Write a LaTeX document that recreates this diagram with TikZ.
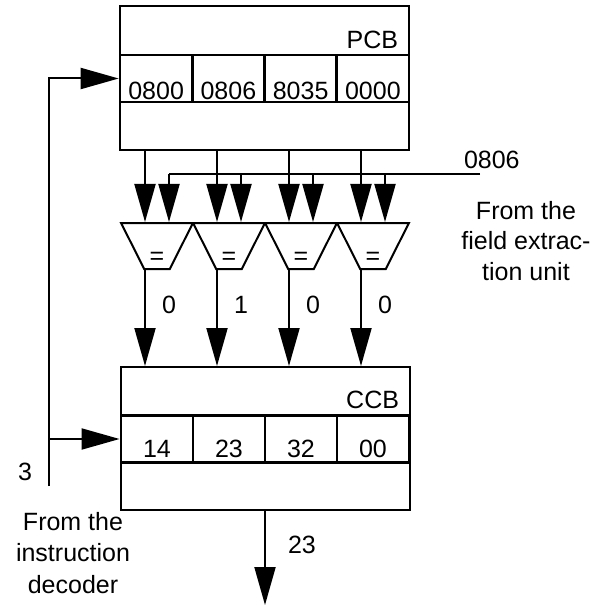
\documentclass[tikz,border=0pt]{standalone}
\usepackage{fontspec}
\setmainfont{Liberation Sans}
\usetikzlibrary{arrows.meta,shapes.geometric,calc}
\begin{document}
\begin{tikzpicture}[x=1pt,y=-1pt,line width=2pt,
  arr/.style={-{Triangle[length=38pt,width=21pt]}},
  txt/.style={font=\fontsize{25}{30.5}\selectfont,inner sep=0pt},
  regbox/.style={draw,line width=2pt,minimum width=289pt,inner sep=0pt},
  pcell/.style={draw,line width=2.6pt,minimum width=72.25pt,minimum height=47pt,inner sep=0pt,
    font=\fontsize{25}{30}\selectfont,text height=43pt,text depth=0pt},
  ccell/.style={pcell,text height=36pt},
  cmp/.style={draw,trapezium,trapezium left angle=70.3,trapezium right angle=70.3,
    shape border rotate=180,trapezium stretches=true,minimum width=72pt,minimum height=46pt,
    inner sep=0pt,font=\fontsize{25}{30}\selectfont,text height=37pt,text depth=0pt}]
\useasboundingbox (0,0) rectangle (608,607);
\fill[white] (0,0) rectangle (608,607);
% PCB
\node[regbox,minimum height=144pt] (pcb) at (264.5,78) {};
\foreach \v [count=\i] in {0800,0806,8035,0000}
  \node[pcell] (p\i) at ({120+72.25*(\i-0.5)},78.5) {\v};
\node[txt,anchor=base east] (pcbl) at (399,49) {PCB};
% CCB
\node[regbox,minimum height=143pt] (ccb) at (265,438.5) {};
\foreach \v [count=\i] in {14,23,32,00}
  \node[ccell] (c\i) at ({121+72*(\i-0.5)},439) {\v};
\node[txt,anchor=base east] (ccbl) at (400,408) {CCB};
% comparators
\foreach \i in {1,...,4}{
  \node[cmp] (cmp\i) at ({121+72*(\i-0.5)},246) {=};
  \coordinate (a\i) at ($(cmp\i.north)+(-12,0)$);
  \coordinate (b\i) at ($(cmp\i.north)+(12,0)$);
  \coordinate (o\i) at ($(cmp\i.south)+(-12,0)$);
}
% field extraction input
\coordinate (ext) at (480,174);
\draw (ext) -- (b1 |- ext);
\foreach \i in {1,...,4}{
  \draw[arr] (pcb.south -| a\i) -- (a\i);
  \draw[arr] (b\i |- ext) -- (b\i);
  \draw[arr] (o\i) -- (o\i |- ccb.north);
}
\node[txt,anchor=base west] (extl) at (463,169) {0806};
\node[txt,align=center] (fext) at (526,241) {From the\\field extrac-\\tion unit};
% comparator results
\foreach \v [count=\i] in {0,1,0,0}
  \node[txt,anchor=base west] (r\i) at ({121+72*(\i-0.5)+4},313) {\v};
% decoder feedback
\coordinate (dec) at (49,486);
\draw[arr] (dec) -- (dec |- p1.west) -- (p1.west);
\draw[arr] (dec |- c1.west) -- (c1.west);
\node[txt,anchor=base] (three) at (25,480) {3};
\node[txt,align=center,font=\fontsize{25}{31.5}\selectfont] (idec) at (73,553) {From the\\instruction\\decoder};
% output
\coordinate (out) at (265,605);
\draw[arr] (ccb.south -| out) -- (out);
\node[txt,anchor=base west] (outl) at (287,553) {23};
\end{tikzpicture}
\end{document}
